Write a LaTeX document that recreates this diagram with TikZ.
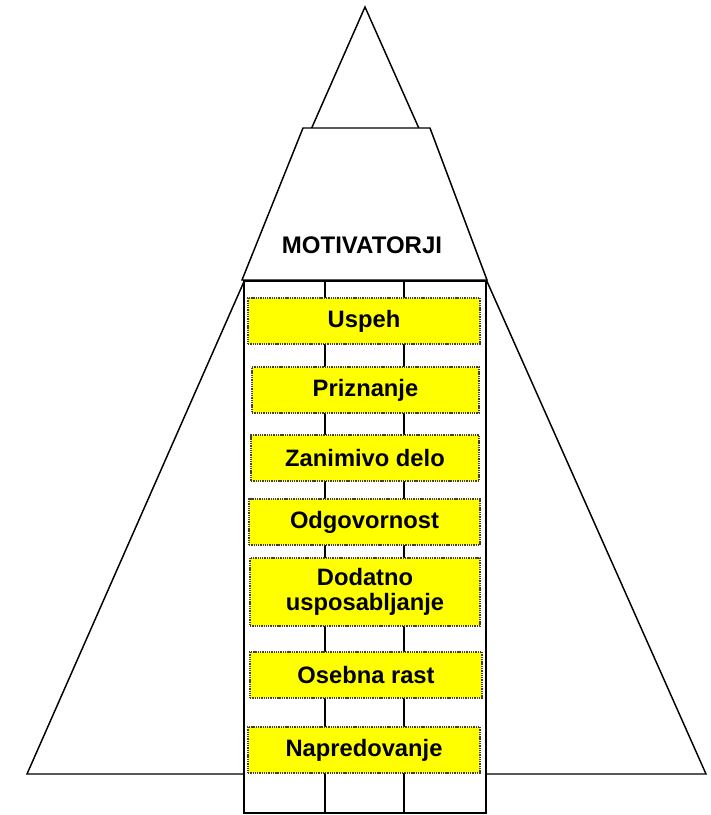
\documentclass[tikz,border=0pt]{standalone}
\usepackage{fontspec}
\setmainfont{Liberation Sans}
\definecolor{boxyellow}{RGB}{255,255,0}
\begin{document}
\begin{tikzpicture}[x=0.75pt,y=-0.75pt,line join=miter,
  outl/.style={draw=black,line width=1.1pt,fill=white},
  gridline/.style={draw=black,line width=1pt},
  ybox/.style={fill=boxyellow,draw=black!70!olive,dash pattern=on 1pt off 0.7pt,line width=0.8pt,
    font=\bfseries\fontsize{17.8}{18.75}\selectfont,align=center,inner sep=0pt,
    minimum height=34.5pt},
  title/.style={font=\bfseries\fontsize{18}{20}\selectfont,inner sep=0pt}]
\useasboundingbox (0,0) rectangle (711,815);
% big triangle
\coordinate (apex) at (365,7);
\coordinate (bl) at (27,774);
\coordinate (br) at (706,774);
\draw[outl] (apex) -- (br) -- (bl) -- cycle;
% trapezoid
\coordinate (ttl) at (303,128);
\coordinate (ttr) at (430,128);
\coordinate (tbr) at (487,280);
\coordinate (tbl) at (242,280);
\draw[outl] (ttl) -- (ttr) -- (tbr) -- (tbl) -- cycle;
\node[title] (motiv) at (362,245) {MOTIVATORJI};
% column
\coordinate (ctl) at (244,281);
\coordinate (cbr) at (486,813);
\draw[outl] (ctl) rectangle (cbr);
\coordinate (v1t) at (325,281);
\coordinate (v1b) at (325,813);
\coordinate (v2t) at (404,281);
\coordinate (v2b) at (404,813);
\draw[gridline] (v1t) -- (v1b);
\draw[gridline] (v2t) -- (v2b);
% boxes
\node[ybox,minimum width=174pt] (b1) at (364,321) {Uspeh};
\node[ybox,minimum width=170.25pt] (b2) at (365.5,390) {Priznanje};
\node[ybox,minimum width=171pt] (b3) at (365,458) {Zanimivo delo};
\node[ybox,minimum width=173.25pt] (b4) at (364.5,522) {Odgovornost};
\node[ybox,minimum width=172.5pt,minimum height=51pt] (b5) at (365,592) {Dodatno\\usposabljanje};
\node[ybox,minimum width=174pt] (b6) at (366,675) {Osebna rast};
\node[ybox,minimum width=174pt] (b7) at (364,750) {Napredovanje};
\end{tikzpicture}
\end{document}
